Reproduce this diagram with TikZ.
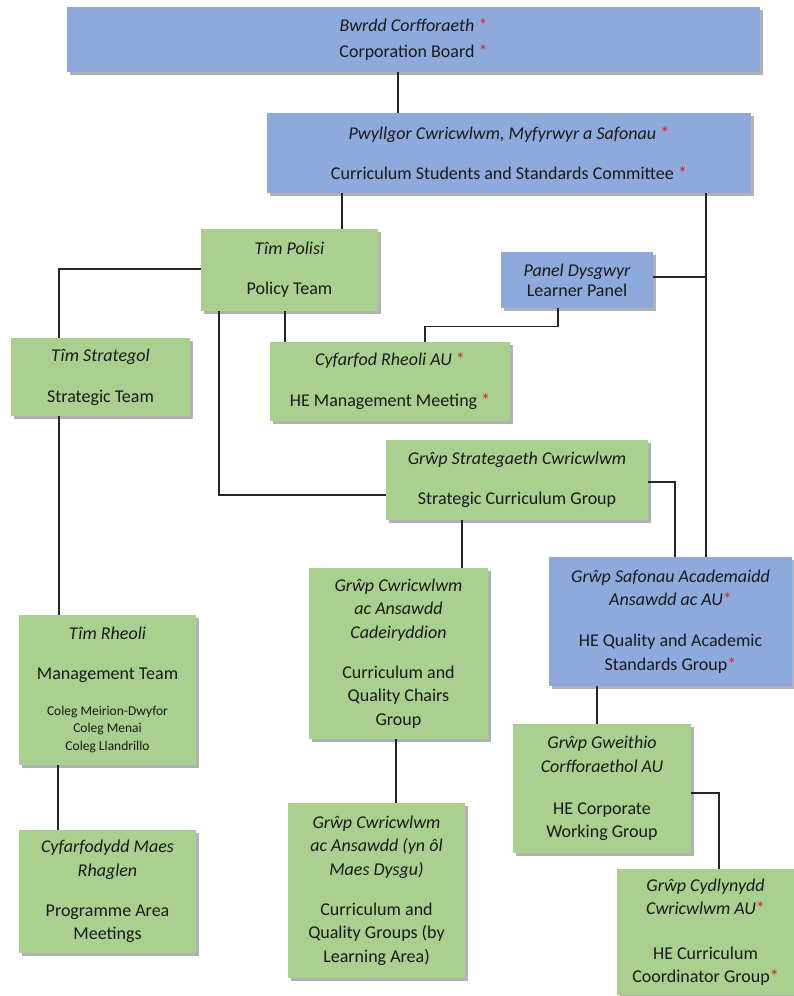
\documentclass[tikz,border=0pt]{standalone}
\usepackage{fontspec}
\setmainfont{Carlito}
\usetikzlibrary{shadows}
\definecolor{boxblue}{HTML}{8EA9DB}
\definecolor{boxgreen}{HTML}{A9D08E}
\definecolor{starred}{HTML}{E02020}
\newcommand{\redstar}{\textcolor{starred}{*}}
\newcommand{\smallcoleg}[1]{{\fontsize{13.5}{17.5}\selectfont #1}}
\begin{document}
\begin{tikzpicture}[x=1pt,y=-1pt,
  box/.style={inner sep=0pt, align=center, text=black!90,
    font=\fontsize{18}{23.5}\selectfont,
    drop shadow={shadow xshift=2.5pt, shadow yshift=-2.5pt, opacity=0.3, fill=black}},
  bluebox/.style={box, fill=boxblue},
  greenbox/.style={box, fill=boxgreen},
  link/.style={draw=black!85, line width=1.1pt}]
\useasboundingbox (0,0) rectangle (794,996);

\node[bluebox, minimum width=693pt, minimum height=65pt] (board) at (413.5,39.5)
  {\textit{Bwrdd Corfforaeth} \redstar\\[2.5pt] Corporation Board \redstar};
\node[bluebox, minimum width=484pt, minimum height=80pt] (cssc) at (509,153)
  {\textit{Pwyllgor Cwricwlwm, Myfyrwyr a Safonau} \redstar\\[16.5pt] Curriculum Students and Standards Committee \redstar};
\node[greenbox, minimum width=177pt, minimum height=82pt] (policy) at (289.5,270)
  {\textit{Tîm Polisi}\\[16.5pt] Policy Team};
\node[bluebox, minimum width=152pt, minimum height=56pt] (panel) at (577,280)
  {\textit{Panel Dysgwyr}\\[-3.5pt] Learner Panel};
\node[greenbox, minimum width=179pt, minimum height=78pt] (strategol) at (100.5,377)
  {\textit{Tîm Strategol}\\[17.5pt] Strategic Team};
\node[greenbox, minimum width=240pt, minimum height=79pt] (hemm) at (390,381.5)
  {\textit{Cyfarfod Rheoli AU} \redstar\\[17.5pt] HE Management Meeting \redstar};
\node[greenbox, minimum width=262pt, minimum height=80pt] (scg) at (517,480)
  {\textit{Grŵp Strategaeth Cwricwlwm}\\[16.5pt] Strategic Curriculum Group};
\node[greenbox, minimum width=179pt, minimum height=171pt] (chairs) at (398.5,653.5)
  {\textit{Grŵp Cwricwlwm}\\ \textit{ac Ansawdd}\\ \textit{Cadeiryddion}\\[16.5pt]
   Curriculum and\\ Quality Chairs\\ Group};
\node[bluebox, minimum width=243pt, minimum height=129pt] (quality) at (670.5,621.5)
  {\textit{Grŵp Safonau Academaidd}\\ \textit{Ansawdd ac AU}\redstar\\[17.5pt]
   HE Quality and Academic\\ Standards Group\redstar};
\node[greenbox, minimum width=177pt, minimum height=150pt] (rheoli) at (107.5,690)
  {\textit{Tîm Rheoli}\\[16.5pt] Management Team\\[12pt]
   \smallcoleg{Coleg Meirion-Dwyfor}\\[-6pt] \smallcoleg{Coleg Menai}\\[-6pt] \smallcoleg{Coleg Llandrillo}};
\node[greenbox, minimum width=177pt, minimum height=123pt] (cyfmaes) at (107.5,891.5)
  {\textit{Cyfarfodydd Maes}\\ \textit{Rhaglen}\\[16.5pt] Programme Area\\ Meetings};
\node[greenbox, minimum width=177pt, minimum height=175pt] (groups) at (376.5,890.5)
  {\textit{Grŵp Cwricwlwm}\\ \textit{ac Ansawdd (yn ôl}\\ \textit{Maes Dysgu)}\\[16.5pt]
   Curriculum and\\ Quality Groups (by\\ Learning Area)};
\node[greenbox, minimum width=178pt, minimum height=129pt] (gweithio) at (602,788.5)
  {\textit{Grŵp Gweithio}\\ \textit{Corfforaethol AU}\\[18.5pt] HE Corporate\\ Working Group};
\node[greenbox, minimum width=177pt, minimum height=126pt] (cydlyn) at (705.5,932)
  {\textit{Grŵp Cydlynydd}\\ \textit{Cwricwlwm AU}\redstar\\[21pt] HE Curriculum\\ Coordinator Group\redstar};

% connectors
\coordinate (rtrunk) at ([xshift=197pt]cssc.south);
\coordinate (pe) at ([yshift=3pt]panel.east);
\draw[link] ([xshift=-15.5pt]board.south) -- ([xshift=-111pt]cssc.north);
\draw[link] ([xshift=-167pt]cssc.south) -- ([xshift=52.5pt]policy.north);
\draw[link] (rtrunk) -- ([xshift=35.5pt]quality.north);
\draw[link] (pe) -- (pe -| rtrunk);
\draw[link] ([yshift=1pt]policy.west) -| ([xshift=-41.5pt]strategol.north);
\draw[link] ([xshift=-70.5pt]policy.south) |- ([yshift=-15pt]scg.west);
\draw[link] ([xshift=-4.5pt]policy.south) -- ([xshift=-105pt]hemm.north);
\draw[link] ([xshift=-19pt]panel.south) -- ++(0,18) -| ([xshift=35pt]hemm.north);
\draw[link] ([yshift=-2pt]scg.east) -| ([xshift=4.5pt]quality.north);
\draw[link] ([xshift=-41.5pt]strategol.south) -- ([xshift=-48.5pt]rheoli.north);
\draw[link] ([xshift=-55pt]scg.south) -- ([xshift=63.5pt]chairs.north);
\draw[link] ([xshift=-2.5pt]chairs.south) -- ([xshift=19.5pt]groups.north);
\draw[link] ([xshift=-73.5pt]quality.south) -- ([xshift=-5pt]gweithio.north);
\draw[link] ([yshift=-4.5pt]gweithio.east) -| ([xshift=13.5pt]cydlyn.north);
\draw[link] ([xshift=-49.5pt]rheoli.south) -- ([xshift=-49.5pt]cyfmaes.north);
\end{tikzpicture}
\end{document}
